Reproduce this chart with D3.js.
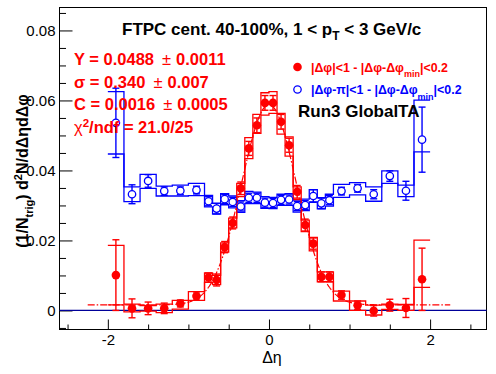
<!DOCTYPE html>
<html>
<head>
<meta charset="utf-8">
<script src="https://cdn.jsdelivr.net/npm/d3@7"></script>
<style>
  body { margin: 0; background: #fff; }
  svg { display: block; }
</style>
</head>
<body>
<div id="chart"></div>
<script>
// bin edges in delta-eta (28 bins, 0.2 wide outside |0.8|, 0.1 inside)
var binEdges = [-2.0, -1.8, -1.6, -1.4, -1.2, -1.0, -0.8, -0.7, -0.6, -0.5, -0.4, -0.3, -0.2, -0.1, 0.0,
                0.1, 0.2, 0.3, 0.4, 0.5, 0.6, 0.7, 0.8, 1.0, 1.2, 1.4, 1.6, 1.8, 2.0];

// near side: |dphi|<1
var redVal  = [0.0101, 0.0006, 0.0006, 0.0006, 0.0020, 0.0041, 0.0094, 0.0087, 0.0181, 0.0250,
               0.0349, 0.0463, 0.0529, 0.0593, 0.0593, 0.0539, 0.0472, 0.0339, 0.0244, 0.0191,
               0.0096, 0.0096, 0.0044, 0.0015, -0.0001, 0.0015, 0.0007, 0.0089];
var redStat = [0.0101, 0.0027, 0.0018, 0.0015, 0.0010, 0.0012, 0.0013, 0.0017, 0.0016, 0.0017,
               0.0018, 0.0020, 0.0021, 0.0021, 0.0021, 0.0021, 0.0020, 0.0018, 0.0017, 0.0016,
               0.0014, 0.0014, 0.0012, 0.0012, 0.0015, 0.0017, 0.0027, 0.0089];
var redBoxLo = [0.0016, -0.0004, -0.0002, -0.0006, 0.0004, 0.0029, 0.0080, 0.0074, 0.0167, 0.0236,
                0.0325, 0.0434, 0.0506, 0.0558, 0.0563, 0.0504, 0.0441, 0.0317, 0.0225, 0.0170,
                0.0082, 0.0082, 0.0027, 0.0000, -0.0013, 0.0003, 0.0000, 0.0066];
var redBoxHi = [0.0186, 0.0018, 0.0014, 0.0018, 0.0029, 0.0054, 0.0107, 0.0100, 0.0193, 0.0264,
                0.0363, 0.0494, 0.0560, 0.0622, 0.0625, 0.0563, 0.0496, 0.0353, 0.0258, 0.0209,
                0.0110, 0.0110, 0.0055, 0.0027, 0.0015, 0.0018, 0.0017, 0.0201];

// away side: |dphi-pi|<1
var blueVal  = [0.0536, 0.0332, 0.0370, 0.0341, 0.0342, 0.0344, 0.0312, 0.0291, 0.0318, 0.0310,
                0.0297, 0.0322, 0.0322, 0.0308, 0.0307, 0.0316, 0.0317, 0.0298, 0.0301, 0.0327,
                0.0306, 0.0315, 0.0341, 0.0349, 0.0332, 0.0384, 0.0342, 0.0488];
var blueStat = [0.0099, 0.0027, 0.0018, 0.0012, 0.0011, 0.0011, 0.0013, 0.0015, 0.0013, 0.0013,
                0.0013, 0.0013, 0.0013, 0.0013, 0.0013, 0.0013, 0.0013, 0.0013, 0.0013, 0.0018,
                0.0015, 0.0013, 0.0011, 0.0011, 0.0013, 0.0015, 0.0027, 0.0093];
var blueBoxLo = [0.0447, 0.0311, 0.0349, 0.0327, 0.0327, 0.0328, 0.0296, 0.0275, 0.0302, 0.0293,
                 0.0280, 0.0305, 0.0305, 0.0292, 0.0291, 0.0300, 0.0300, 0.0281, 0.0285, 0.0310,
                 0.0290, 0.0298, 0.0323, 0.0330, 0.0312, 0.0363, 0.0325, 0.0453];
var blueBoxHi = [0.0625, 0.0353, 0.0389, 0.0355, 0.0358, 0.0363, 0.0329, 0.0306, 0.0334, 0.0327,
                 0.0314, 0.0340, 0.0338, 0.0325, 0.0323, 0.0332, 0.0334, 0.0315, 0.0318, 0.0345,
                 0.0322, 0.0332, 0.0360, 0.0365, 0.0353, 0.0399, 0.0358, 0.0601];

// gaussian + constant fit (yield, sigma, const), as printed on the plot
var fitPars = [0.0488, 0.340, 0.0016];
var fitRange = [-2.25, 2.25];

var yMajorTicks = [0, 0.02, 0.04, 0.06, 0.08];
var xMajorTicks = [-2, 0, 2];

var W = 496, H = 374;
var fr = { left: 59.5, right: 486.5, top: 7.5, bottom: 329.5 };

var svg = d3.select("#chart")
    .append("svg")
    .attr("width", W)
    .attr("height", H)
    .style("font-family", "'Liberation Sans', Arial, Helvetica, sans-serif");

svg.append("rect").attr("width", W).attr("height", H).attr("fill", "#fff");

var x = d3.scaleLinear().domain([-2.6, 2.7]).range([fr.left, fr.right]);
var y = d3.scaleLinear().domain([-0.0053, 0.0867]).range([329, 7]);

// ---- axes
var yMinor = d3.range(-0.005, 0.086, 0.005).filter(v => yMajorTicks.every(m => Math.abs(m - v) > 1e-6));
var xMinor = d3.range(-2.5, 2.6, 0.5).filter(v => xMajorTicks.every(m => Math.abs(m - v) > 1e-6));

svg.append("g")
    .attr("transform", `translate(${fr.left},0)`)
    .call(d3.axisLeft(y).tickValues(yMajorTicks).tickSize(-13).tickPadding(4)
        .tickFormat(d => d === 0 ? "0" : d.toFixed(2)));
svg.append("g")
    .attr("transform", `translate(${fr.left},0)`)
    .call(d3.axisLeft(y).tickValues(yMinor).tickSize(-6.5).tickFormat(""));

svg.append("g")
    .attr("transform", `translate(0,${fr.bottom})`)
    .call(d3.axisBottom(x).tickValues(xMajorTicks).tickSize(-10).tickPadding(5)
        .tickFormat(d => d3.format("d")(d).replace("−", "-")));
svg.append("g")
    .attr("transform", `translate(0,${fr.bottom})`)
    .call(d3.axisBottom(x).tickValues(xMinor).tickSize(-5).tickFormat(""));

svg.selectAll(".domain").remove();
svg.selectAll(".tick line").attr("stroke", "#000").attr("stroke-width", 1);
svg.selectAll(".tick text")
    .attr("fill", "#000")
    .style("font-size", "15px");

// frame
svg.append("rect")
    .attr("x", fr.left).attr("y", fr.top)
    .attr("width", fr.right - fr.left).attr("height", fr.bottom - fr.top)
    .attr("fill", "none").attr("stroke", "#000").attr("stroke-width", 1);

// zero line
svg.append("line")
    .attr("x1", fr.left).attr("x2", fr.right)
    .attr("y1", y(0)).attr("y2", y(0))
    .attr("stroke", "#000099").attr("stroke-width", 1.2);

// ---- systematic boxes, drawn as step outlines
function stepPoints(vals) {
    var pts = [];
    vals.forEach(function (v, i) {
        pts.push([binEdges[i], v]);
        pts.push([binEdges[i + 1], v]);
    });
    return pts;
}
var stepLine = d3.line().x(d => x(d[0])).y(d => y(d[1]));

function drawBoxes(lo, hi, color) {
    [lo, hi].forEach(function (arr) {
        svg.append("path")
            .attr("d", stepLine(stepPoints(arr)))
            .attr("fill", "none")
            .attr("stroke", color)
            .attr("stroke-width", 1.3);
    });
}
drawBoxes(blueBoxLo, blueBoxHi, "#0000ff");
drawBoxes(redBoxLo, redBoxHi, "#ff0000");

// ---- fit curve
var fitX = d3.range(fitRange[0], fitRange[1] + 1e-9, 0.01);
function fitFn(t) {
    var A = fitPars[0], s = fitPars[1], C = fitPars[2];
    return C + A / (Math.sqrt(2 * Math.PI) * s) * Math.exp(-t * t / (2 * s * s));
}
svg.append("path")
    .attr("d", d3.line().x(d => x(d)).y(d => y(fitFn(d)))(fitX))
    .attr("fill", "none")
    .attr("stroke", "#ff0000")
    .attr("stroke-width", 1.2)
    .attr("stroke-dasharray", "7,2,1.5,2");

// ---- points
var centers = binEdges.slice(0, -1).map((e, i) => (e + binEdges[i + 1]) / 2);

function drawPoints(vals, stat, color, filled) {
    var g = svg.append("g");
    var cap = 3.5;
    vals.forEach(function (v, i) {
        var cx = x(centers[i]);
        var y1 = y(v + stat[i]), y2 = y(v - stat[i]);
        g.append("line").attr("x1", cx).attr("x2", cx).attr("y1", y1).attr("y2", y2)
            .attr("stroke", color).attr("stroke-width", 1.4);
        [y1, y2].forEach(function (yy) {
            g.append("line").attr("x1", cx - cap).attr("x2", cx + cap).attr("y1", yy).attr("y2", yy)
                .attr("stroke", color).attr("stroke-width", 1.4);
        });
    });
    g.selectAll("circle")
        .data(vals)
        .enter()
        .append("circle")
        .attr("cx", (d, i) => x(centers[i]))
        .attr("cy", d => y(d))
        .attr("r", filled ? 4.3 : 3.7)
        .attr("fill", filled ? color : "#fff")
        .attr("stroke", color)
        .attr("stroke-width", filled ? 0 : 1.3);
}
drawPoints(blueVal, blueStat, "#0000ff", false);
drawPoints(redVal, redStat, "#ff0000", true);

// ---- texts
var title = svg.append("text")
    .attr("x", 122).attr("y", 35)
    .style("font-size", "17px").style("font-weight", "bold").attr("fill", "#000");
title.append("tspan").text("FTPC cent. 40-100%, 1 < p");
title.append("tspan").attr("dy", 5).style("font-size", "12px").text("T");
title.append("tspan").attr("dy", -5).text(" < 3 GeV/c");

var fitLines = [
    ["Y = 0.0488", "\u00B1", "0.0011"],
    ["\u03C3 = 0.340", "\u00B1", "0.007"],
    ["C = 0.0016", "\u00B1", "0.0005"]
];
fitLines.forEach(function (l, i) {
    var t = svg.append("text")
        .attr("x", 74).attr("y", 65 + i * 22.6)
        .style("font-size", "16.5px").style("font-weight", "bold").attr("fill", "#ff0000");
    t.append("tspan").text(l[0]);
    t.append("tspan").attr("dx", 8).style("font-weight", "normal").text(l[1]);
    t.append("tspan").attr("dx", 5).text(l[2]);
});
var chi = svg.append("text")
    .attr("x", 74).attr("y", 133)
    .style("font-size", "16.5px").style("font-weight", "bold").attr("fill", "#ff0000");
chi.append("tspan").style("font-weight", "normal").text("\u03C7");
chi.append("tspan").attr("dy", -6).style("font-size", "11.5px").text("2");
chi.append("tspan").attr("dy", 6).text("/ndf = 21.0/25");

// legend
var legend = [
    { color: "#ff0000", filled: true, y: 67, pre: "|\u0394\u03C6|<1 - |\u0394\u03C6-\u0394\u03C6" },
    { color: "#0000ff", filled: false, y: 89.5, pre: "|\u0394\u03C6-\u03C0|<1 - |\u0394\u03C6-\u0394\u03C6" }
];
legend.forEach(function (l) {
    svg.append("circle")
        .attr("cx", 297.5).attr("cy", l.y)
        .attr("r", l.filled ? 4.3 : 3.7)
        .attr("fill", l.filled ? l.color : "#fff")
        .attr("stroke", l.color).attr("stroke-width", l.filled ? 0 : 1.3);
    var t = svg.append("text")
        .attr("x", 311).attr("y", l.y + 4.5)
        .style("font-size", "12.4px").style("font-weight", "bold").attr("fill", l.color);
    t.append("tspan").text(l.pre);
    t.append("tspan").attr("dy", 5.5).style("font-size", "9px").text("min");
    t.append("tspan").attr("dy", -5.5).text("|<0.2");
});

svg.append("text")
    .attr("x", 298).attr("y", 116.5)
    .style("font-size", "17px").style("font-weight", "bold").attr("fill", "#000")
    .text("Run3 GlobalTA");

// axis titles
svg.append("text")
    .attr("x", x(0) + 3).attr("y", 363)
    .attr("text-anchor", "middle")
    .style("font-size", "16px").attr("fill", "#000")
    .text("\u0394\u03B7");

var yt = svg.append("text")
    .attr("transform", "translate(28,171) rotate(-90)")
    .attr("text-anchor", "middle")
    .style("font-size", "16px").style("font-weight", "bold").attr("fill", "#000");
yt.append("tspan").text("(1/N");
yt.append("tspan").attr("dy", 5).style("font-size", "11px").text("trig");
yt.append("tspan").attr("dy", -5).text(") d");
yt.append("tspan").attr("dy", -6).style("font-size", "11px").text("2");
yt.append("tspan").attr("dy", 6).text("N/d\u0394\u03B7d\u0394\u03C6");
</script>
</body>
</html>
